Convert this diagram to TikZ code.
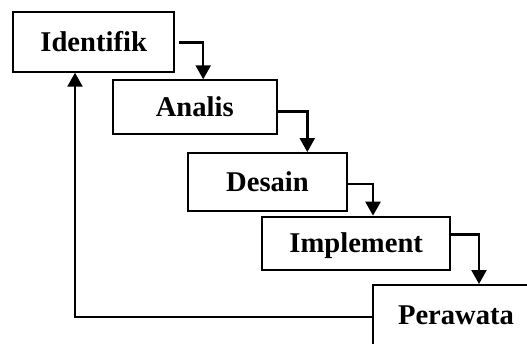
\documentclass[tikz,border=0pt]{standalone}
\usepackage{fontspec}
\setmainfont{Liberation Serif}
\usetikzlibrary{arrows.meta}
\begin{document}
\begin{tikzpicture}[x=1pt,y=-1pt,
  stage/.style={draw,line width=2pt,inner sep=0pt,text height=19pt,text depth=0pt,
    font=\fontsize{28.6}{30}\selectfont\bfseries},
  flow/.style={line width=2.4pt,-{Triangle[width=15pt,length=14pt]}}]
\useasboundingbox (0,0) rectangle (527,343);
\clip (0,0) rectangle (527,343);
\node[stage,minimum width=160.7pt,minimum height=60pt] (I) at (93.7,41.7) {Identifik};
\node[stage,minimum width=164pt,minimum height=54pt] (A) at (194.7,107.3) {Analis};
\node[stage,minimum width=158.4pt,minimum height=58.3pt] (D) at (267.5,182.2) {Desain};
\node[stage,minimum width=187.7pt,minimum height=53.3pt] (M) at (356.2,243.3) {Implement};
\node[stage,minimum width=166pt,minimum height=60pt] (P) at (456,315) {Perawata};
\draw[flow] ([xshift=4pt,yshift=-0.7pt]I.east) -| ([xshift=8.5pt]A.north);
\draw[flow] ([yshift=-4pt]A.east) -| ([xshift=39.8pt]D.north);
\draw[flow] ([yshift=-2pt]D.east) -| ([xshift=16.8pt]M.north);
\draw[flow] ([yshift=8.7pt]M.east) -| ([xshift=23pt]P.north);
\draw[flow] ([yshift=-2pt]P.west) -| ([xshift=-18.7pt]I.south);
\end{tikzpicture}
\end{document}
